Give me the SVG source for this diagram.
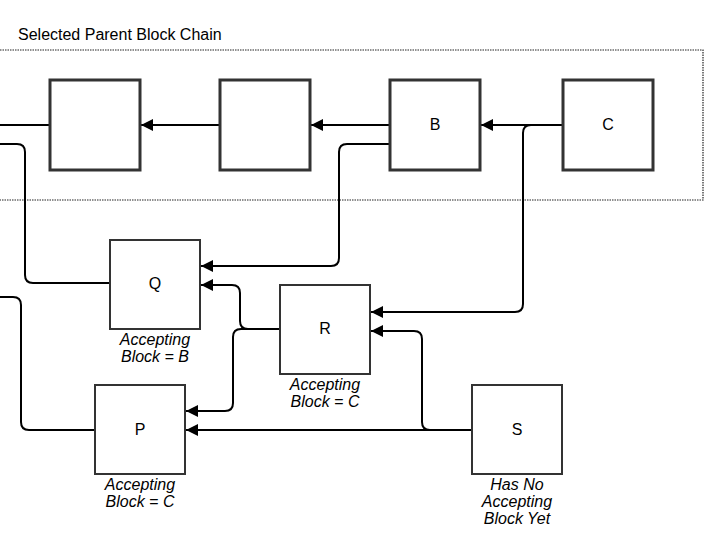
<svg xmlns="http://www.w3.org/2000/svg" width="722" height="550" viewBox="0 0 722 550">
  <defs>
    <marker id="arrow" markerUnits="userSpaceOnUse" markerWidth="13" markerHeight="13" refX="12" refY="6" orient="auto">
      <path d="M0,0 L12,6 L0,12 z" fill="#000"/>
    </marker>
    <style>
      .chain { fill: #fff; stroke: #333; stroke-width: 3; }
      .blk { fill: #fff; stroke: #333; stroke-width: 2; }
      .edge { fill: none; stroke: #000; stroke-width: 2; }
      .arr { marker-end: url(#arrow); }
      .name { font-family: "Liberation Sans", Arial, sans-serif; font-size: 16px; fill: #000; text-anchor: middle; }
      .note { font-family: "Liberation Sans", Arial, sans-serif; font-size: 16px; font-style: italic; fill: #000; text-anchor: middle; }
      .title { font-family: "Liberation Sans", Arial, sans-serif; font-size: 16px; fill: #000; }
    </style>
  </defs>
  <rect width="722" height="550" fill="#fff"/>

  <g id="container">
    <rect x="-10" y="50" width="713" height="150" fill="none" stroke="#222" stroke-width="1.2" stroke-dasharray="1.5 1"/>
    <text class="title" x="18" y="40">Selected Parent Block Chain</text>
  </g>

  <g id="connectors">
    <path class="edge" d="M50,125 L0,125"/>
    <path class="edge arr" d="M220,125 L141,125"/>
    <path class="edge arr" d="M390,125 L311,125"/>
    <path class="edge arr" d="M563,125 L481,125"/>
    <path class="edge arr" d="M563,125 L531,125 Q523,125 523,133 L523,304 Q523,312 515,312 L371,312"/>
    <path class="edge arr" d="M390,144 L347,144 Q339,144 339,152 L339,258 Q339,266 331,266 L201,266"/>
    <path class="edge" d="M110,283 L33,283 Q25,283 25,275 L25,152 Q25,144 17,144 L0,144"/>
    <path class="edge arr" d="M280,329 L248,329 Q240,329 240,321 L240,293 Q240,285 232,285 L201,285"/>
    <path class="edge arr" d="M280,329 L241,329 Q233,329 233,337 L233,403 Q233,411 225,411 L186,411"/>
    <path class="edge arr" d="M472,430 L430,430 Q422,430 422,422 L422,339 Q422,331 414,331 L371,331"/>
    <path class="edge arr" d="M472,430 L186,430"/>
    <path class="edge" d="M95,430 L29,430 Q21,430 21,422 L21,305 Q21,297 13,297 L0,297"/>
  </g>

  <g id="block1">
    <rect class="chain" x="50" y="80" width="90" height="90"/>
  </g>
  <g id="block2">
    <rect class="chain" x="220" y="80" width="90" height="90"/>
  </g>
  <g id="blockB">
    <rect class="chain" x="390" y="80" width="90" height="90"/>
    <text class="name" x="435" y="130">B</text>
  </g>
  <g id="blockC">
    <rect class="chain" x="563" y="80" width="90" height="90"/>
    <text class="name" x="608" y="130">C</text>
  </g>

  <g id="blockQ">
    <rect class="blk" x="110" y="240" width="90" height="89"/>
    <text class="name" x="155" y="289">Q</text>
    <text class="note" x="155" y="345">Accepting</text>
    <text class="note" x="155" y="362">Block = B</text>
  </g>
  <g id="blockR">
    <rect class="blk" x="280" y="285" width="90" height="89"/>
    <text class="name" x="325" y="334">R</text>
    <text class="note" x="325" y="390">Accepting</text>
    <text class="note" x="325" y="407">Block = C</text>
  </g>
  <g id="blockP">
    <rect class="blk" x="95" y="385" width="90" height="89"/>
    <text class="name" x="140" y="435">P</text>
    <text class="note" x="140" y="490">Accepting</text>
    <text class="note" x="140" y="507">Block = C</text>
  </g>
  <g id="blockS">
    <rect class="blk" x="472" y="385" width="90" height="89"/>
    <text class="name" x="517" y="435">S</text>
    <text class="note" x="517" y="490">Has No</text>
    <text class="note" x="517" y="507">Accepting</text>
    <text class="note" x="517" y="524">Block Yet</text>
  </g>
</svg>
